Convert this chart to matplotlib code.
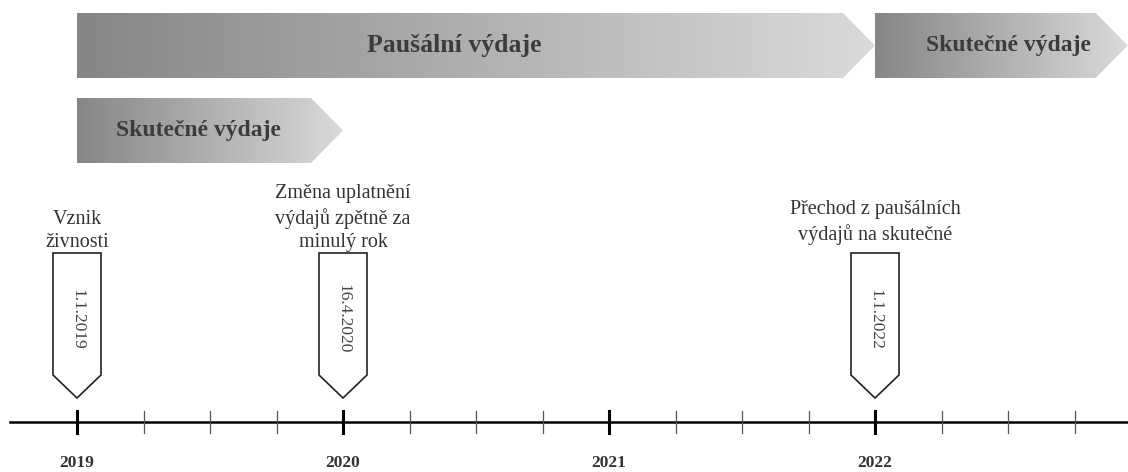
import numpy as np
import matplotlib.pyplot as plt
from matplotlib.patches import Polygon
from matplotlib.colors import LinearSegmentedColormap

plt.rcParams['font.family'] = ['Liberation Serif', 'DejaVu Serif']

# Timeline data
years = [2019, 2020, 2021, 2022]
year_labels = ['2019', '2020', '2021', '2022']
quarter_ticks = [2019 + q / 4 for q in range(16)]

# Periods (start, end, label, row)
period_start = [2019, 2019, 2022]
period_end = [2022, 2020, 2022.95]
period_label = ['Paušální výdaje', 'Skutečné výdaje', 'Skutečné výdaje']
period_row = [0, 1, 0]
period_text_x = [2020.42, 2019.455, 2022.5]
period_font = [18.5, 17, 17]

# Events
event_x = [2019, 2020, 2022]
event_date = ['1.1.2019', '16.4.2020', '1.1.2022']
event_text = ['Vznik\nživnosti',
              'Změna uplatnění\nvýdajů zpětně za\nminulý rok',
              'Přechod z paušálních\nvýdajů na skutečné']
event_text_bottom = [252, 252, 245]

px = 266.0  # pixels per year
x_min = 2019 - 77 / px
x_max = 2019 + (1128 - 77) / px

fig = plt.figure(figsize=(11.28, 4.72), dpi=100)
ax = fig.add_axes([0, 0, 1, 1])
ax.axis('off')

cmap = LinearSegmentedColormap.from_list('g', ['#868686', '#dadada'])
grad = np.linspace(0, 1, 256).reshape(1, -1)

row_top = [13, 98]
row_h = 65
tip = 32 / px
for s, e, lab, r, tx, fs in zip(period_start, period_end, period_label,
                                period_row, period_text_x, period_font):
    y0 = row_top[r]
    y1 = y0 + row_h
    ym = (y0 + y1) / 2
    poly = Polygon([(s, y0), (e - tip, y0), (e, ym), (e - tip, y1), (s, y1)],
                   closed=True, facecolor='none', edgecolor='none')
    ax.add_patch(poly)
    im = ax.imshow(grad, extent=[s, e, y1, y0], aspect='auto', cmap=cmap,
                   interpolation='bilinear', zorder=1)
    im.set_clip_path(poly)
    ax.text(tx, ym, lab, ha='center', va='center', fontsize=fs,
            fontweight='bold', color='#3c3c3c', zorder=3)

# Timeline axis
ax.plot([x_min + 10 / px, x_max], [422, 422], color='black', lw=1.8, zorder=2)
for q in quarter_ticks:
    if q in years:
        continue
    ax.plot([q, q], [411, 433], color='#555555', lw=0.9, zorder=2)
for y, lab in zip(years, year_labels):
    ax.plot([y, y], [411, 433], color='black', lw=2.2, zorder=3)
    ax.text(y, 463, lab, ha='center', va='center', fontsize=12.5,
            fontweight='bold', color='#333333')

# Event markers
hw = 24 / px
for x, d, t, tb in zip(event_x, event_date, event_text, event_text_bottom):
    box = Polygon([(x - hw, 253), (x + hw, 253), (x + hw, 375), (x, 398), (x - hw, 375)],
                  closed=True, facecolor='white', edgecolor='#222222', lw=1.2, zorder=3)
    ax.add_patch(box)
    ax.text(x, 319, d, rotation=-90, ha='center', va='center', fontsize=12.5,
            color='#444444', zorder=4)
    ax.text(x, tb, t, ha='center', va='bottom', fontsize=14.5, color='#333333',
            linespacing=1.32)

ax.set_xlim(x_min, x_max)
ax.set_ylim(472, 0)
fig.savefig('out.png', dpi=100)
